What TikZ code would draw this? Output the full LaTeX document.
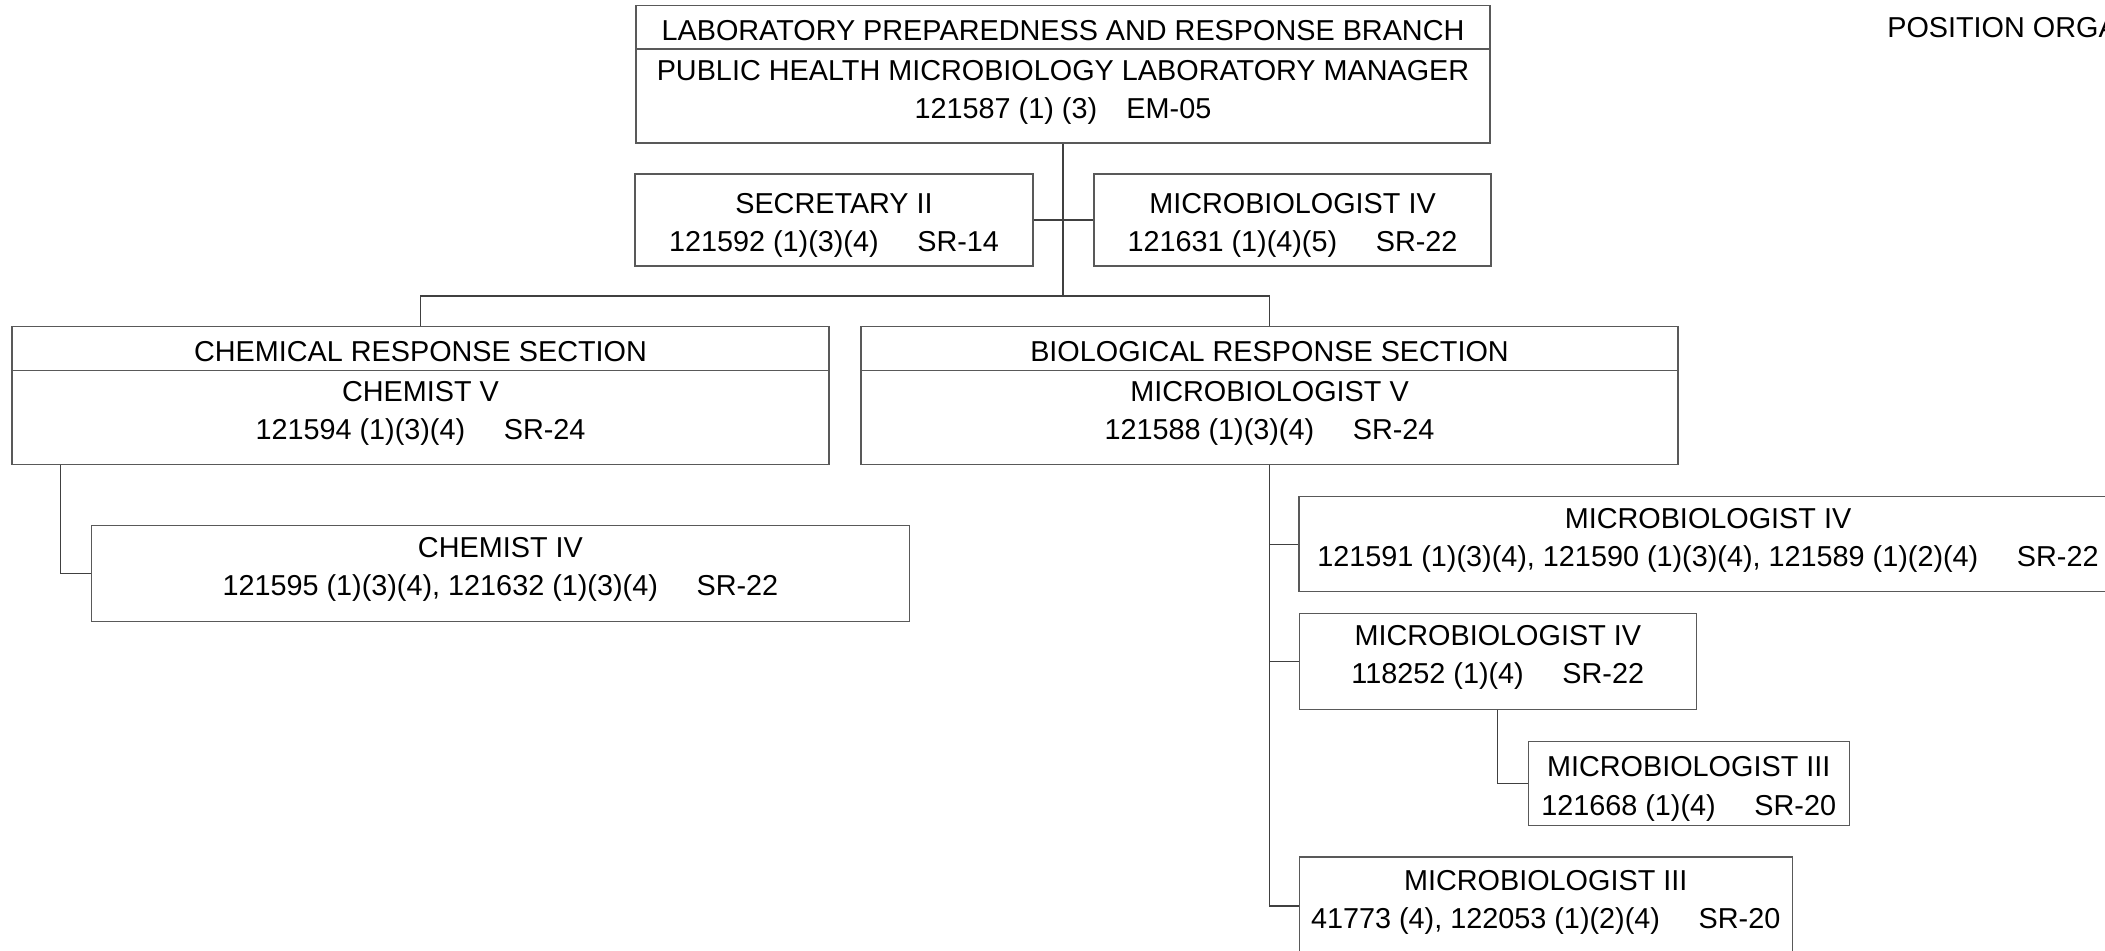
\documentclass[tikz,border=0pt]{standalone}
\usepackage{fontspec}
\setmainfont{Liberation Sans}
\newcommand{\posgap}{\hspace{29pt}}
\newcommand{\dropln}{\rule{0pt}{23.5pt}}
\newcommand{\hdrop}{\rule{0pt}{19.5pt}}

\begin{document}
\begin{tikzpicture}[x=0.75pt,y=-0.75pt]
  \tikzset{post/.style={draw=black!65, line width=0.8pt, rectangle, inner sep=0pt, align=center,
                        font=\fontsize{21.6}{28.7}\selectfont},
           sz/.style 2 args={minimum width=#1*0.75pt, minimum height=#2*0.75pt},
           lift/.style={execute at end node={\rule[-10pt]{0pt}{10pt}}},
           link/.style={draw=black!75, line width=0.8pt}}
  \useasboundingbox (0,0) rectangle (2105,950);
  \clip (0,0) rectangle (2105,950);

  % branch
  \node[post, sz={854}{43.3}] (branch) at (1063,27.3) {\hdrop LABORATORY PREPAREDNESS AND RESPONSE BRANCH};
  \node[post, lift, sz={854}{94}] (mgr) at (1063,96) {PUBLIC HEALTH MICROBIOLOGY LABORATORY MANAGER\\121587 (1) (3)\hspace{22pt}EM-05};
  \node[font=\fontsize{21.6}{28.7}\selectfont, anchor=west, inner sep=0pt] (title) at (1887,28) {POSITION ORGA};

  % staff
  \node[post, sz={398}{92}] (sec) at (834,220) {\dropln SECRETARY II\\121592 (1)(3)(4)\posgap SR-14};
  \node[post, sz={397}{92}] (mb4s) at (1292.5,220) {\dropln MICROBIOLOGIST IV\\121631 (1)(4)(5)\posgap SR-22};

  % sections
  \node[post, sz={817}{43.6}] (chemH) at (420.5,348.5) {\hdrop CHEMICAL RESPONSE SECTION};
  \node[post, lift, sz={817}{93.7}] (chemB) at (420.5,417.2) {CHEMIST V\\121594 (1)(3)(4)\posgap SR-24};
  \node[post, sz={817}{43.6}] (bioH) at (1269.5,348.5) {\hdrop BIOLOGICAL RESPONSE SECTION};
  \node[post, lift, sz={817}{93.7}] (bioB) at (1269.5,417.2) {MICROBIOLOGIST V\\121588 (1)(3)(4)\posgap SR-24};

  % chemical staff
  \node[post, lift, sz={817.3}{96}] (chem4) at (500.4,573.3) {CHEMIST IV\\121595 (1)(3)(4), 121632 (1)(3)(4)\posgap SR-22};

  % biological staff
  \node[post, lift, sz={818}{95.3}] (mb4t) at (1708,544.3) {MICROBIOLOGIST IV\\121591 (1)(3)(4), 121590 (1)(3)(4), 121589 (1)(2)(4)\posgap SR-22};
  \node[post, lift, sz={397}{95.3}] (mb4x) at (1497.8,661.4) {MICROBIOLOGIST IV\\118252 (1)(4)\posgap SR-22};
  \node[post, sz={320.7}{83.7}] (mb3a) at (1688.7,783.2) {\dropln MICROBIOLOGIST III\\121668 (1)(4)\posgap SR-20};
  \node[post, lift, sz={492.7}{98}] (mb3b) at (1545.7,906) {MICROBIOLOGIST III\\41773 (4), 122053 (1)(2)(4)\posgap SR-20};

  % lines
  \coordinate (bus) at (1063,296);
  \draw[link] (mgr.south) -- (bus);
  \draw[link] (sec.east) -- (mb4s.west);
  \draw[link] (chemH.north) |- (bus) -| (bioH.north);
  \draw[link] (chemB.south west) ++(49.3,0) |- (chem4.west);
  \draw[link] (bioB.south) |- (mb4t.west);
  \draw[link] (bioB.south) |- (mb4x.west);
  \draw[link] (bioB.south) |- (mb3b.west);
  \draw[link] (mb4x.south) |- (mb3a.west);
\end{tikzpicture}
\end{document}
